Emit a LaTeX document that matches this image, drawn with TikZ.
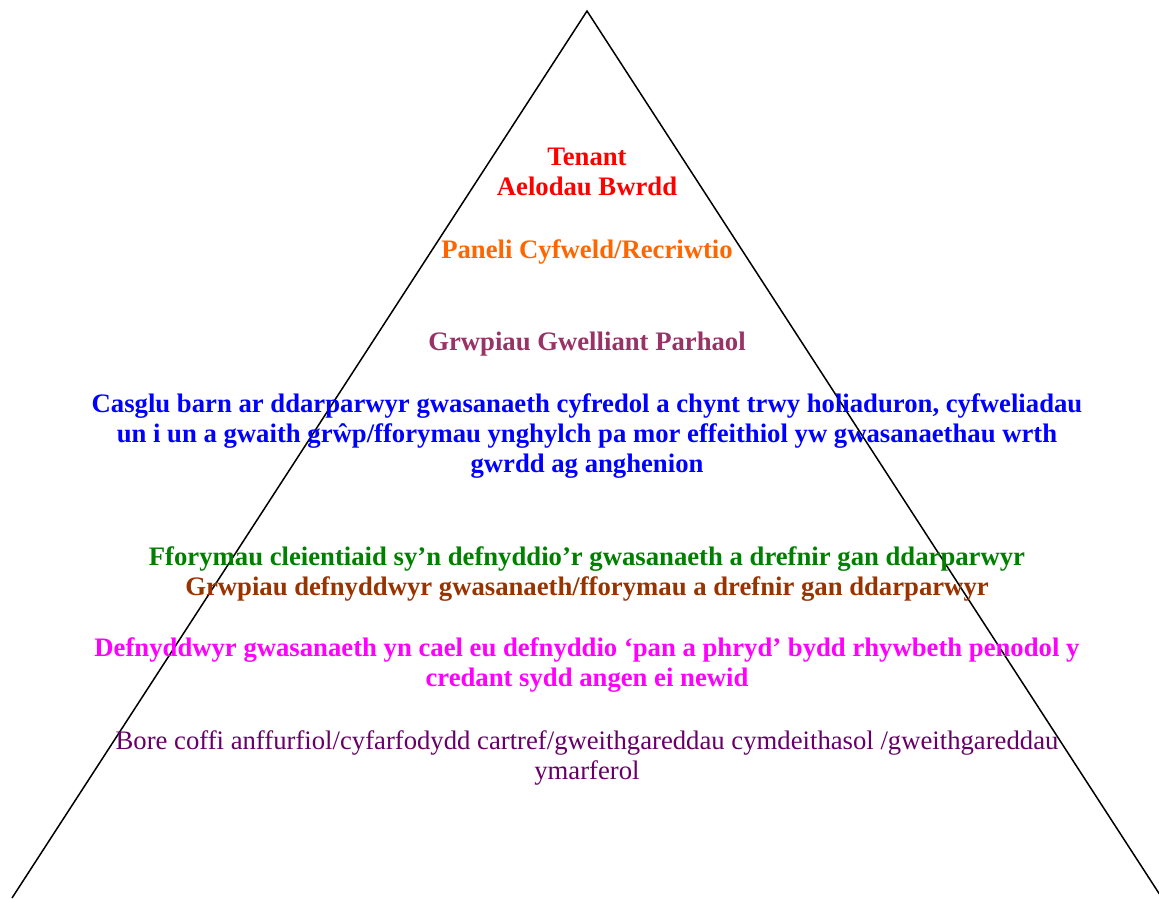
\documentclass[tikz,border=0pt]{standalone}
\usepackage{fontspec}
\setmainfont{Liberation Serif}
\definecolor{cRed}{HTML}{FF0000}
\definecolor{cOrange}{HTML}{FF6600}
\definecolor{cRose}{HTML}{993366}
\definecolor{cBlue}{HTML}{0000FF}
\definecolor{cGreen}{HTML}{008000}
\definecolor{cBrown}{HTML}{993300}
\definecolor{cMagenta}{HTML}{FF00FF}
\definecolor{cPurple}{HTML}{660066}
% levels are placed by the baseline of their last line
\tikzset{
  lvl/.style={anchor=base, align=center, inner sep=0pt,
    font=\fontsize{26.7}{30}\selectfont\bfseries},
  lvlplain/.style={lvl, font=\fontsize{26.7}{30}\selectfont},
}
\begin{document}
\begin{tikzpicture}[x=1pt, y=-1pt]
\useasboundingbox (0,0) rectangle (1159,898);
% pyramid outline
\coordinate (apex) at (587,11);
\coordinate (bl) at (12,898);
\coordinate (br) at (1162,898);
\draw[line width=1.5pt, line join=miter] (bl) -- (apex) -- (br);
% levels, top to bottom
\node[lvl, text=cRed] (tenant) at (587,195) {Tenant\\Aelodau Bwrdd};
\node[lvl, text=cOrange] (paneli) at (587,258) {Paneli Cyfweld/Recriwtio};
\node[lvl, text=cRose] (gwelliant) at (587,350) {Grwpiau Gwelliant Parhaol};
\node[lvl, text=cBlue] (casglu) at (587,472) {Casglu barn ar ddarparwyr gwasanaeth cyfredol a chynt trwy holiaduron, cyfweliadau\\un i un a gwaith grŵp/fforymau ynghylch pa mor effeithiol yw gwasanaethau wrth\\gwrdd ag anghenion};
\node[lvl, text=cGreen] (cleientiaid) at (587,565) {Fforymau cleientiaid sy’n defnyddio’r gwasanaeth a drefnir gan ddarparwyr};
\node[lvl, text=cBrown] (grwpiau) at (587,595) {Grwpiau defnyddwyr gwasanaeth/fforymau a drefnir gan ddarparwyr};
\node[lvl, text=cMagenta] (defnyddwyr) at (587,686) {Defnyddwyr gwasanaeth yn cael eu defnyddio ‘pan a phryd’ bydd rhywbeth penodol y\\credant sydd angen ei newid};
\node[lvlplain, text=cPurple] (bore) at (587,779) {Bore coffi anffurfiol/cyfarfodydd cartref/gweithgareddau cymdeithasol /gweithgareddau\\ymarferol};
\end{tikzpicture}
\end{document}
